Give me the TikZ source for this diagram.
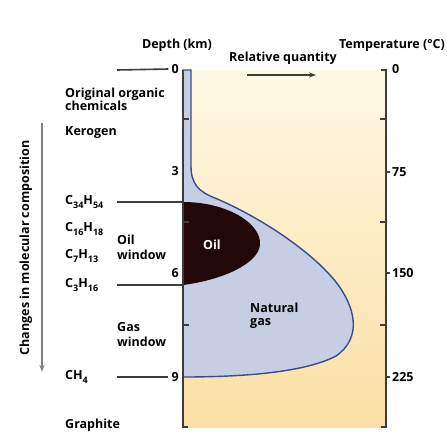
\documentclass[tikz,border=0pt]{standalone}
\usepackage{fontspec}
\setmainfont{Open Sans}
\usepackage{xcolor}
\usetikzlibrary{positioning,arrows.meta}

\definecolor{axisgray}{HTML}{3C3C3C}
\definecolor{gasblue}{HTML}{C6CEE4}
\definecolor{gasline}{HTML}{3B4B8F}
\definecolor{oilbrown}{HTML}{220809}
\definecolor{sandtop}{HTML}{FEF8E4}
\definecolor{sandbot}{HTML}{FBDFA4}

\newcommand{\lowsub}[1]{\raisebox{-0.45ex}{\fontsize{9}{10}\selectfont #1}}

\begin{document}
\begin{tikzpicture}[x=1pt, y=-1pt, font=\bfseries\fontsize{12.5}{14}\selectfont,
  lbl/.style={anchor=west, inner sep=0pt, align=left},
  num/.style={inner sep=0pt},
  axis/.style={draw=axisgray, line width=1.8pt},
  tick/.style={draw=axisgray, line width=1.5pt},
  guide/.style={draw=axisgray, line width=1.6pt},
  pointer/.style={-{Stealth[length=7pt,width=5pt]}}]

\useasboundingbox (0,0) rectangle (447,440);

% background between the axes
\shade[top color=sandtop, bottom color=sandbot] (183,70) rectangle (386,427);

% gas and oil regions
\filldraw[fill=gasblue, draw=gasline, line width=1.4pt]
  (183,70) -- (191,70) -- (191,166)
  .. controls (191,184) and (199,192) .. (215,198)
  .. controls (262,218) and (312,252) .. (336,282)
  .. controls (356,308) and (362,338) .. (336,356)
  .. controls (302,374) and (232,377) .. (183,377) -- cycle;
\fill[oilbrown] (183,202)
  .. controls (228,202) and (262,224) .. (260,245)
  .. controls (258,264) and (222,280) .. (183,285) -- cycle;

% axes
\draw[axis] (183,70) -- (183,427) -- ++(5,0);
\draw[axis] (381,70) -- (386,70) -- (386,427) -- ++(-5,0);
\foreach \y in {119,222,325} {
  \draw[tick] (183,\y) -- ++(6,0);
  \draw[tick] (386,\y) -- ++(-6,0);
}
\foreach \y in {172,273,377} \draw[tick] (386,\y) -- ++(4,0);

% headings
\node[num] (depth) at (177,45) {Depth (km)};
\node[num] (temp) at (392,45) {Temperature (°C)};
\node[num] (relq) at (283,58) {Relative quantity};
\coordinate (rq0) at (247,75);
\coordinate (rq1) at (316,75);
\path (rq0) edge[guide, pointer] (rq1);

% depth labels
\node[num, anchor=east] (d0) at (179,69) {0};
\node[num, anchor=east] (d3) at (179,171) {3};
\node[num, anchor=east] (d6) at (179,273) {6};
\node[num, anchor=east] (d9) at (179,377) {9};

% temperature labels
\node[num, anchor=west] (t0) at (392,69) {0};
\node[num, anchor=west] (t75) at (392,172) {75};
\node[num, anchor=west] (t150) at (392,273) {150};
\node[num, anchor=west] (t225) at (392,377) {225};

% compositions
\node[lbl] (orig) at (65,99) {Original organic\\[-1pt]chemicals};
\node[lbl] (kero) at (65,133) {Kerogen};
\node[lbl] (c34) at (65,202) {C\lowsub{34}H\lowsub{54}};
\node[lbl] (c16) at (65,229) {C\lowsub{16}H\lowsub{18}};
\node[lbl] (c7) at (65,256) {C\lowsub{7}H\lowsub{13}};
\node[lbl] (c3) at (65,285) {C\lowsub{3}H\lowsub{16}};
\node[lbl] (ch4) at (65,377) {CH\lowsub{4}};
\node[lbl] (graph) at (65,425) {Graphite};
\node[lbl] (oilwin) at (117,247) {Oil\\[1pt]window};
\node[lbl] (gaswin) at (117,335) {Gas\\[1pt]window};

% region labels
\node[num, text=white] (oil) at (212,245) {Oil};
\node[lbl] (gas) at (250,316) {Natural\\[-1pt]gas};

% level lines
\coordinate (l0) at (117,70);
\coordinate (l34) at (117,202);
\coordinate (r34) at (183,202);
\coordinate (l3) at (117,285);
\coordinate (r3) at (183,285);
\coordinate (l9) at (117,377);
\path (l0) edge[guide] ([xshift=-3pt]d0.west)
  (l34) edge[guide] (r34)
  (l3) edge[guide] (r3)
  (l9) edge[guide] ([xshift=-3pt]d9.west);

% molecular composition arrow
\coordinate (mc0) at (42,123);
\coordinate (mc1) at (42,372);
\path (mc0) edge[draw=gray, line width=1.5pt, pointer] (mc1);
\node[num, rotate=90] (molc) at (26,248) {Changes in molecular composition};

\end{tikzpicture}
\end{document}
